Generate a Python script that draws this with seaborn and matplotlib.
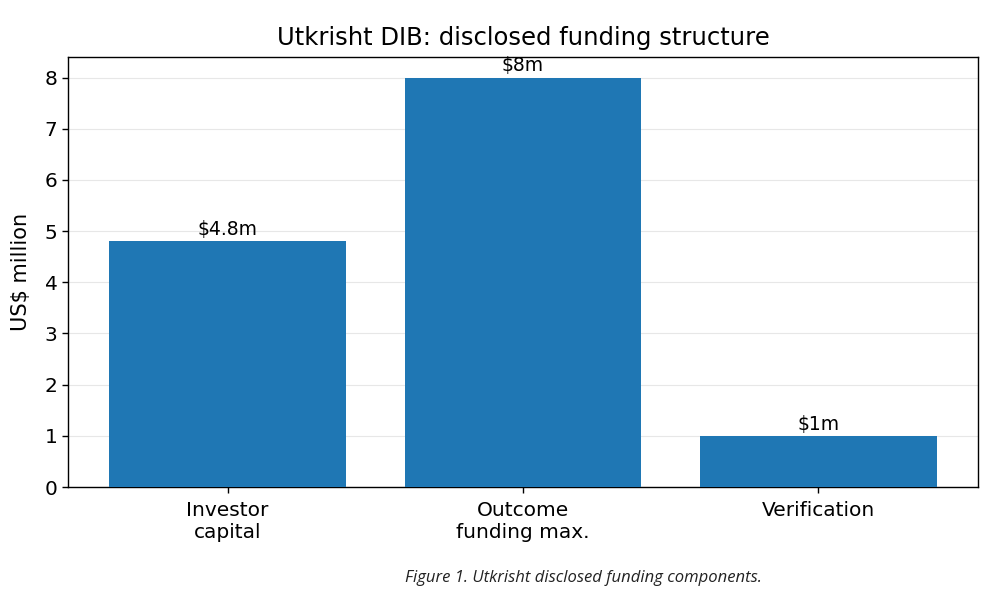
import matplotlib
matplotlib.use("Agg")
import matplotlib.pyplot as plt
import seaborn as sns
import pandas as pd

# Disclosed funding components (US$ million)
categories = ["Investor\ncapital", "Outcome\nfunding max.", "Verification"]
amounts = [4.8, 8.0, 1.0]
bar_labels = ["$4.8m", "$8m", "$1m"]

df = pd.DataFrame({"component": categories, "amount": amounts})

sns.set_style("white")
plt.rcParams["font.family"] = ["DejaVu Sans"]
plt.rcParams["text.color"] = "black"
plt.rcParams["axes.labelcolor"] = "black"
plt.rcParams["xtick.color"] = "black"
plt.rcParams["ytick.color"] = "black"

fig = plt.figure(figsize=(10, 5.94), dpi=100)
ax = fig.add_axes([0.068, 0.18, 0.91, 0.724])

sns.barplot(data=df, x="component", y="amount", color="#1f77b4",
            saturation=1, width=0.8, linewidth=0, ax=ax, zorder=3)

ax.grid(axis="y", color="#dddddd", linewidth=0.8, alpha=0.7, zorder=0)
ax.set_axisbelow(True)
ax.set_ylim(0, 8.4)
ax.set_xlim(-0.54, 2.54)
ax.set_xlabel("")
ax.set_ylabel("US$ million", fontsize=15, labelpad=10)
ax.set_title("Utkrisht DIB: disclosed funding structure", fontsize=17.5,
             pad=9, color="black")
ax.tick_params(axis="both", labelsize=14.5, length=4, width=1,
               left=True, bottom=True)
ax.tick_params(axis="x", pad=6)

for sp in ax.spines.values():
    sp.set_visible(True)
    sp.set_color("black")
    sp.set_linewidth(1)

for i, (v, lab) in enumerate(zip(amounts, bar_labels)):
    ax.text(i, v + 0.04, lab, ha="center", va="bottom", fontsize=13.5,
            color="black")

fig.text(0.583, 0.027, "Figure 1. Utkrisht disclosed funding components.",
         ha="center", va="center", fontsize=12, style="italic",
         family=["Open Sans", "DejaVu Sans"], color="#222222")

fig.savefig("out.png", dpi=100)
